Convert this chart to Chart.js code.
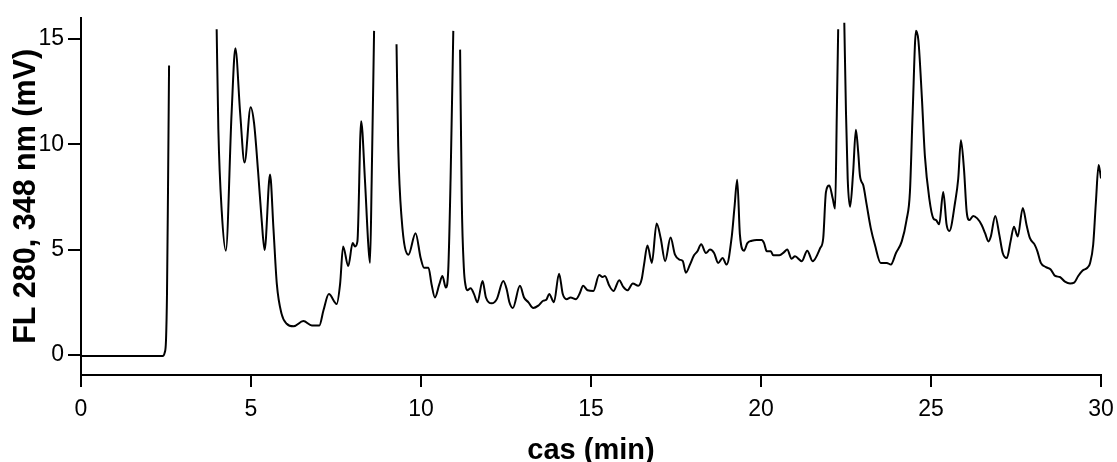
<!DOCTYPE html>
<html>
<head>
<meta charset="utf-8">
<script src="https://cdn.jsdelivr.net/npm/chart.js"></script>
<style>
  html, body { margin: 0; padding: 0; background: #fff; }
  #wrap { width: 1117px; height: 462px; }
</style>
</head>
<body>
<div id="wrap"><canvas id="chart"></canvas></div>
<script>
// retention time (min), null in signal = trace leaves the plot (gap)
const times = [
    0, 1.0, 2.0, 2.40, 2.46, 2.50, 2.53, 2.56, 2.59, 3.3,
    3.99, 4.04, 4.14, 4.26, 4.43, 4.54, 4.68, 4.81, 4.99, 5.09,
    5.21, 5.31, 5.40, 5.56, 5.66, 5.76, 5.90, 6.05, 6.25, 6.54,
    6.79, 7.01, 7.13, 7.29, 7.52, 7.62, 7.71, 7.86, 7.99, 8.06,
    8.13, 8.24, 8.35, 8.45, 8.50, 8.55, 8.62, 8.9,
    9.28, 9.33, 9.43, 9.63, 9.84, 9.99, 10.09, 10.22, 10.31, 10.41,
    10.54, 10.63, 10.73, 10.80, 10.87, 10.95, 11.05,
    11.15, 11.20, 11.26, 11.31, 11.36, 11.46, 11.56, 11.66, 11.81, 11.91,
    12.08, 12.23, 12.42, 12.52, 12.60, 12.70, 12.91, 13.03, 13.16, 13.30,
    13.45, 13.60, 13.68, 13.77, 13.91, 14.06, 14.17, 14.28, 14.40, 14.56,
    14.66, 14.77, 14.90, 15.07, 15.24, 15.34, 15.41, 15.54, 15.66, 15.83,
    15.95, 16.07, 16.23, 16.39, 16.49, 16.56, 16.66, 16.79, 16.93, 17.05,
    17.18, 17.34, 17.47, 17.60, 17.70, 17.79, 17.91, 18.03, 18.13, 18.24,
    18.38, 18.50, 18.62, 18.74, 18.87, 18.99, 19.14, 19.22, 19.30, 19.38,
    19.50, 19.60, 19.73, 19.87, 20.02, 20.09, 20.17, 20.29, 20.36, 20.54,
    20.68, 20.77, 20.90, 21.00, 21.20, 21.36, 21.52, 21.74, 21.83, 21.91,
    22.01, 22.11, 22.18, 22.23, 22.27, 22.36,
    22.45, 22.50, 22.55, 22.62, 22.71, 22.79, 22.86, 22.91, 23.01, 23.11,
    23.23, 23.35, 23.52, 23.70, 23.82, 23.97, 24.14, 24.28, 24.38, 24.46,
    24.56, 24.63, 24.73, 24.82, 24.95, 25.07, 25.15, 25.24, 25.36, 25.46,
    25.54, 25.71, 25.80, 25.88, 25.97, 26.05, 26.13, 26.24, 26.36, 26.49,
    26.59, 26.69, 26.76, 26.89, 27.01, 27.11, 27.23, 27.34, 27.44, 27.55,
    27.70, 27.81, 27.91, 28.04, 28.13, 28.23, 28.38, 28.52, 28.65, 28.79,
    28.94, 29.09, 29.21, 29.33, 29.46, 29.60, 29.68, 29.77, 29.85, 29.93,
    30.00
];

// fluorescence signal (mV)
const signal = [
    -0.05, -0.05, -0.05, -0.05, 0.1, 0.7, 3.0, 8.0, 13.74, null,
    15.46, 10.7, 6.8, 4.95, 11.5, 14.55, 11.5, 9.13, 11.76, 11.0,
    8.67, 6.48, 4.98, 8.56, 6.01, 3.36, 1.95, 1.48, 1.36, 1.61,
    1.40, 1.40, 2.11, 2.89, 2.42, 3.36, 5.15, 4.22, 5.31, 5.15,
    5.39, 11.09, 8.35, 5.23, 4.37, 8.35, 15.38, null,
    14.75, 9.9, 6.48, 4.76, 5.78, 4.6, 4.14, 4.14, 3.36, 2.73,
    3.36, 3.75, 3.2, 3.98, 8.35, 15.38, null,
    14.49, 7.26, 4.14, 3.3, 3.07, 3.17, 2.89, 2.50, 3.51, 2.73,
    2.45, 2.65, 3.51, 3.12, 2.50, 2.23, 3.28, 2.73, 2.50, 2.23,
    2.34, 2.58, 2.61, 2.89, 2.50, 3.86, 2.89, 2.65, 2.73, 2.65,
    2.89, 3.28, 3.07, 3.04, 3.79, 3.70, 3.75, 3.28, 3.04, 3.55,
    3.23, 3.07, 3.39, 3.28, 3.59, 4.29, 5.20, 4.37, 6.24, 5.54,
    4.45, 5.57, 4.76, 4.53, 4.45, 3.90, 4.29, 4.73, 4.92, 5.26,
    4.84, 5.00, 4.84, 4.37, 4.60, 4.29, 5.62, 7.0, 8.32, 5.70,
    4.95, 5.31, 5.42, 5.46, 5.46, 5.31, 4.92, 4.92, 4.73, 4.73,
    4.88, 5.00, 4.57, 4.68, 4.45, 4.95, 4.45, 5.07, 5.54, 7.73,
    8.04, 7.42, 6.95, 11.48, 15.46, null,
    15.77, 11.48, 8.35, 7.03, 8.67, 10.69, 9.60, 8.51, 8.04, 7.11,
    6.01, 5.23, 4.37, 4.37, 4.29, 4.84, 5.39, 6.40, 7.73, 11.48,
    15.38, 14.91, 12.26, 9.45, 7.42, 6.48, 6.40, 6.20, 7.73, 6.17,
    5.88, 7.26, 8.35, 10.19, 8.82, 6.79, 6.40, 6.60, 6.48, 6.17,
    5.78, 5.39, 5.62, 6.60, 5.70, 4.84, 4.60, 5.39, 6.09, 5.62,
    6.98, 6.17, 5.54, 5.26, 4.92, 4.37, 4.17, 4.06, 3.75, 3.70,
    3.48, 3.39, 3.43, 3.75, 4.01, 4.14, 4.37, 5.23, 7.26, 9.01,
    8.38
];

// axis settings
const xMin = 0, xMax = 30, xStep = 5;
const yMin = -0.95, yMax = 16, yStep = 5;

const xTitle = "cas (min)";
const yTitle = "FL 280, 348 nm (mV)";

const fontFamily = "'Liberation Sans', Arial, sans-serif";

// points for the trace
const points = times.map((t, i) => ({ x: t, y: signal[i] }));

const ctx = document.getElementById("chart").getContext("2d");

new Chart(ctx, {
    type: "line",
    data: {
        datasets: [
            {
                data: points,
                borderColor: "#000",
                borderWidth: 2,
                pointRadius: 0,
                fill: false,
                spanGaps: false,
                cubicInterpolationMode: "monotone",
            },
        ],
    },
    options: {
        responsive: true,
        maintainAspectRatio: false,
        animation: false,
        layout: {
            padding: { top: 13, right: 16, left: 0, bottom: 0 },
        },
        plugins: {
            legend: { display: false },
            tooltip: { enabled: false },
        },
        scales: {
            x: {
                type: "linear",
                min: xMin,
                max: xMax,
                ticks: {
                    stepSize: xStep,
                    color: "#000",
                    padding: 9,
                    maxRotation: 0,
                    font: { family: fontFamily, size: 23 },
                },
                grid: {
                    drawOnChartArea: false,
                    drawTicks: true,
                    tickLength: 12,
                    color: "#000",
                    lineWidth: 2,
                },
                border: { display: true, color: "#000", width: 2 },
                title: {
                    display: true,
                    text: xTitle,
                    color: "#000",
                    padding: 0,
                    font: { family: fontFamily, size: 29, weight: "bold", lineHeight: 0.75 },
                },
                // fixed height, no extra room for the end labels
                afterFit: (scale) => {
                    scale.height = 87;
                    scale.paddingLeft = 0;
                    scale.paddingRight = 0;
                },
            },
            y: {
                type: "linear",
                min: yMin,
                max: yMax,
                ticks: {
                    stepSize: yStep,
                    includeBounds: false,
                    color: "#000",
                    padding: 4,
                    font: { family: fontFamily, size: 23 },
                },
                grid: {
                    drawOnChartArea: false,
                    drawTicks: true,
                    tickLength: 13,
                    color: "#000",
                    lineWidth: 2,
                },
                border: { display: true, color: "#000", width: 2 },
                title: {
                    display: true,
                    text: yTitle,
                    color: "#000",
                    padding: { top: 8, bottom: 0 },
                    font: { family: fontFamily, size: 30.5, weight: "bold" },
                },
                afterFit: (scale) => { scale.width = 81; },
            },
        },
    },
});
</script>
</body>
</html>
